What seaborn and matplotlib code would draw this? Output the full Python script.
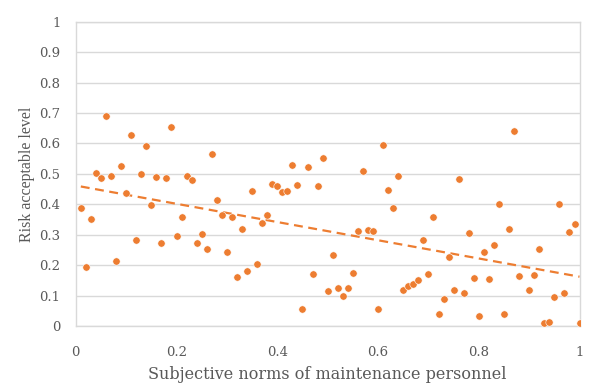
import numpy as np
import pandas as pd
import seaborn as sns
import matplotlib.pyplot as plt

# values
norms = [0.01, 0.02, 0.03, 0.04, 0.05, 0.06, 0.07, 0.08, 0.09, 0.10,
         0.11, 0.12, 0.13, 0.14, 0.15, 0.16, 0.17, 0.18, 0.19, 0.20,
         0.21, 0.22, 0.23, 0.24, 0.25, 0.26, 0.27, 0.28, 0.29, 0.30,
         0.31, 0.32, 0.33, 0.34, 0.35, 0.36, 0.37, 0.38, 0.39, 0.40,
         0.41, 0.42, 0.43, 0.44, 0.45, 0.46, 0.47, 0.48, 0.49, 0.50,
         0.51, 0.52, 0.53, 0.54, 0.55, 0.56, 0.57, 0.58, 0.59, 0.60,
         0.61, 0.62, 0.63, 0.64, 0.65, 0.66, 0.67, 0.68, 0.69, 0.70,
         0.71, 0.72, 0.73, 0.74, 0.75, 0.76, 0.77, 0.78, 0.79, 0.80,
         0.81, 0.82, 0.83, 0.84, 0.85, 0.86, 0.87, 0.88, 0.90, 0.91,
         0.92, 0.93, 0.94, 0.95, 0.96, 0.97, 0.98, 0.99, 1.00]
risk = [0.389, 0.193, 0.353, 0.503, 0.485, 0.690, 0.493, 0.215, 0.527, 0.438,
        0.629, 0.284, 0.500, 0.592, 0.397, 0.489, 0.273, 0.485, 0.654, 0.295,
        0.359, 0.492, 0.480, 0.273, 0.303, 0.255, 0.566, 0.414, 0.365, 0.245,
        0.357, 0.162, 0.320, 0.181, 0.444, 0.205, 0.340, 0.366, 0.467, 0.460,
        0.440, 0.443, 0.530, 0.463, 0.057, 0.523, 0.171, 0.460, 0.553, 0.116,
        0.234, 0.124, 0.100, 0.124, 0.176, 0.312, 0.508, 0.315, 0.313, 0.057,
        0.594, 0.447, 0.389, 0.492, 0.118, 0.131, 0.140, 0.151, 0.284, 0.171,
        0.358, 0.039, 0.090, 0.226, 0.120, 0.483, 0.110, 0.307, 0.159, 0.035,
        0.242, 0.155, 0.268, 0.400, 0.039, 0.320, 0.641, 0.165, 0.120, 0.168,
        0.253, 0.010, 0.014, 0.096, 0.400, 0.110, 0.308, 0.335, 0.012]

x_ticks = [0, 0.2, 0.4, 0.6, 0.8, 1]
x_tick_labels = ['0', '0.2', '0.4', '0.6', '0.8', '1']
y_ticks = [0, 0.1, 0.2, 0.3, 0.4, 0.5, 0.6, 0.7, 0.8, 0.9, 1]
y_tick_labels = ['0', '0.1', '0.2', '0.3', '0.4', '0.5', '0.6', '0.7', '0.8', '0.9', '1']

df = pd.DataFrame({'norms': norms, 'risk': risk})

# linear trend like the excel trendline
slope, intercept = np.polyfit(df['norms'], df['risk'], 1)
trend = pd.DataFrame({'norms': [df['norms'].min(), df['norms'].max()]})
trend['risk'] = intercept + slope * trend['norms']

sns.set_style('white')
plt.rcParams['font.family'] = ['DejaVu Serif', 'Liberation Serif']

orange = '#ED7D31'
grid_c = '#D9D9D9'
text_c = '#595959'

fig = plt.figure(figsize=(5.92, 3.86), dpi=100)
ax = fig.add_axes([0.128, 0.155, 0.851, 0.789])

ax.grid(axis='y', color=grid_c, linewidth=1.0)
ax.set_axisbelow(True)

sns.scatterplot(data=df, x='norms', y='risk', color=orange, s=28,
                edgecolor='white', linewidth=0.4, ax=ax, zorder=3)
sns.lineplot(data=trend, x='norms', y='risk', color=orange, linewidth=1.6,
             linestyle=(0, (4, 2.5)), ax=ax, zorder=2)

ax.set_xlim(0, 1)
ax.set_ylim(0, 1)
ax.set_xticks(x_ticks)
ax.set_xticklabels(x_tick_labels)
ax.set_yticks(y_ticks)
ax.set_yticklabels(y_tick_labels)
ax.tick_params(axis='both', length=0, labelsize=9.5, colors=text_c)
ax.tick_params(axis='x', pad=14)
ax.tick_params(axis='y', pad=11)

for side in ['left', 'bottom', 'right', 'top']:
    ax.spines[side].set_color(grid_c)
    ax.spines[side].set_linewidth(1.0)

ax.set_xlabel('Subjective norms of maintenance personnel', fontsize=11.5,
              color=text_c, labelpad=5)
ax.set_ylabel('Risk acceptable level', fontsize=11.5, family='Liberation Serif',
              color=text_c, labelpad=3)

fig.savefig('out.png', dpi=100)
